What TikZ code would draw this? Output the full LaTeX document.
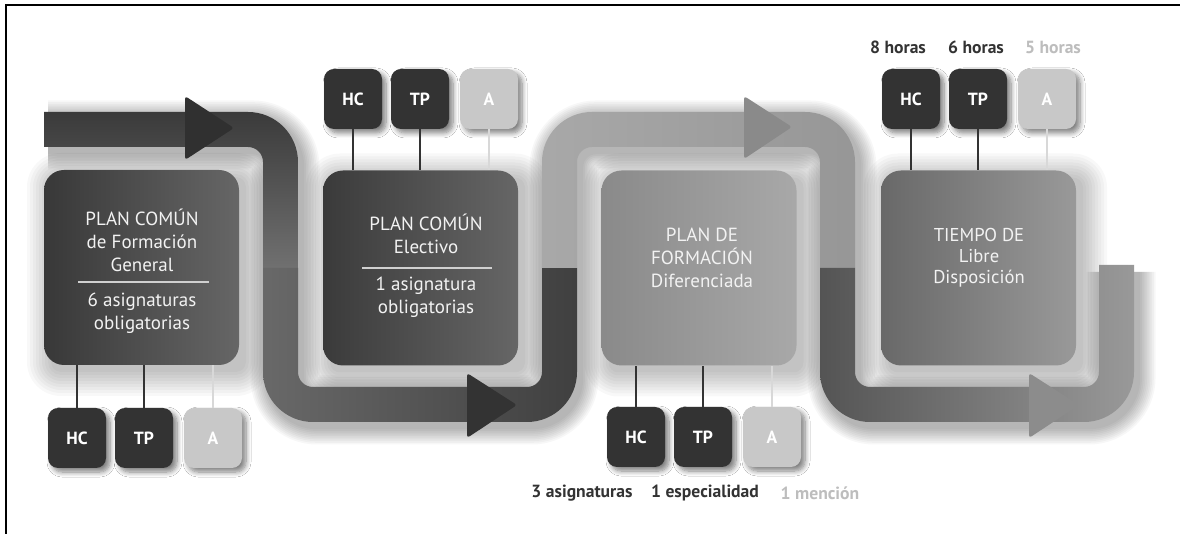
\documentclass[tikz,border=0pt]{standalone}
\usepackage{fontspec}
\setmainfont{PT Sans}
\usetikzlibrary{shadows.blur}
\definecolor{cdark}{HTML}{333333}
\definecolor{clight}{HTML}{C8C8C8}
\definecolor{clinelight}{HTML}{D8D8D8}
\definecolor{ctxt}{HTML}{F2F2F2}
\definecolor{crule}{HTML}{D0D0D0}
\definecolor{clabellight}{HTML}{BDBDBD}
\begin{document}
\begin{tikzpicture}[x=0.5pt,y=-0.5pt,
  bigbox/.style={rounded corners=10pt,minimum width=97.5pt,minimum height=97.5pt,inner sep=0pt},
  tag/.style={rounded corners=5pt,minimum width=29pt,minimum height=30pt,inner sep=0pt,text=white,
     font=\bfseries\fontsize{8.8}{9}\selectfont,
     blur shadow={shadow xshift=2pt,shadow yshift=-2pt,shadow blur radius=2.5pt,shadow blur steps=8,shadow opacity=50}},
  darktag/.style={tag,fill=cdark},
  lighttag/.style={tag,fill=clight},
  darklink/.style={draw=cdark,line width=1pt},
  lightlink/.style={draw=clinelight,line width=1pt},
  boxtext/.style={text=ctxt,align=center,font=\fontsize{9.5}{11.5}\selectfont,inner sep=0pt},
  hours/.style={font=\bfseries\fontsize{8.8}{9}\selectfont,inner sep=0pt},
  arrowhead/.style={rounded corners=1.5pt},
  softshade/.style={black,opacity=0.028}
]
\useasboundingbox (0,0) rectangle (1180,534);
\fill[white] (0,0) rectangle (1180,534);
\draw[line width=1pt,black] (6,534) -- (6,5) -- (1180,5);

% soft shadows of the big boxes
\foreach \cx/\cy in {141.5/267.5,420.5/268,699/268,978.5/268}{
  \foreach \w in {0,3,...,24}{
    \fill[softshade,rounded corners={(10+\w)*0.5pt}]
      ({\cx-97.5-\w+7},{\cy-97.5-\w+7}) rectangle ({\cx+97.5+\w+7},{\cy+97.5+\w+7});
  }
}

% soft shadow of the whole band
\coordinate (s0) at (48,135);
\coordinate (s1) at (285,135);
\coordinate (s2) at (285,410);
\coordinate (s3) at (564,410);
\coordinate (s4) at (564,135);
\coordinate (s5) at (842,135);
\coordinate (s6) at (842,410);
\coordinate (s7) at (1121,410);
\coordinate (s8) at (1121,272);
\foreach \w in {1,...,10}{
  \draw[black,opacity=0.03,line width={(35+3.4*\w)*0.5pt},rounded corners=16pt]
    (s0) -- (s1) -- (s2) -- (s3) -- (s4) -- (s5) -- (s6) -- (s7) -- (s8);
}

% band segments
\path[top color=black!77,bottom color=black!56]
  (44,112) -- (248,112) .. controls (275.6,112) and (298,134.4) .. (298,162) -- (298,268) -- (263,268)
  -- (263,162) .. controls (263,153.7) and (256.3,147) .. (248,147) -- (44,147) -- cycle;
\path[left color=black!59,right color=black!75]
  (263,268) -- (263,372) .. controls (263,399.6) and (285.4,422) .. (313,422) -- (527,422)
  .. controls (554.6,422) and (577,399.6) .. (577,372) -- (577,268) -- (542,268) -- (542,372)
  .. controls (542,380.3) and (535.3,387) .. (527,387) -- (313,387)
  .. controls (304.7,387) and (298,380.3) .. (298,372) -- (298,268) -- cycle;
\path[left color=black!34,right color=black!41]
  (542,268) -- (542,162) .. controls (542,134.4) and (564.4,112) .. (592,112) -- (805,112)
  .. controls (832.6,112) and (855,134.4) .. (855,162) -- (855,268) -- (820,268) -- (820,162)
  .. controls (820,153.7) and (813.3,147) .. (805,147) -- (592,147)
  .. controls (583.7,147) and (577,153.7) .. (577,162) -- (577,268) -- cycle;
\path[left color=black!67,right color=black!40]
  (820,268) -- (820,372) .. controls (820,399.6) and (842.4,422) .. (870,422) -- (1084,422)
  .. controls (1111.6,422) and (1134,399.6) .. (1134,372) -- (1134,265) -- (1099,265) -- (1099,372)
  .. controls (1099,380.3) and (1092.3,387) .. (1084,387) -- (870,387)
  .. controls (861.7,387) and (855,380.3) .. (855,372) -- (855,268) -- cycle;

% arrowheads
\fill[arrowhead,black!81] (185,96) -- (234,128) -- (185,160) -- cycle;
\fill[arrowhead,black!80] (467,373) -- (517,405) -- (467,438) -- cycle;
\fill[arrowhead,black!46] (744,96) -- (792,127) -- (744,159) -- cycle;
\fill[arrowhead,black!45] (1029,373) -- (1079,405) -- (1029,438) -- cycle;

% big boxes
\node[bigbox,left color=black!78,right color=black!60] (b1) at (141.5,267.5) {};
\node[bigbox,left color=black!77,right color=black!60] (b2) at (420.5,268) {};
\node[bigbox,left color=black!46,right color=black!34] (b3) at (699,268) {};
\node[bigbox,left color=black!59,right color=black!40] (b4) at (978.5,268) {};

% box texts
\node[boxtext] (b1t) at (142,240) {PLAN COMÚN\\de Formación\\General};
\draw[crule,line width=0.8pt] (78,282) -- (209,282);
\node[boxtext] (b1s) at (142,313) {6 asignaturas\\obligatorias};

\node[boxtext] (b2t) at (426,233.5) {PLAN COMÚN\\Electivo};
\draw[crule,line width=0.8pt] (362,268) -- (492,268);
\node[boxtext] (b2s) at (426,297) {1 asignatura\\obligatorias};

\node[boxtext] (b3t) at (702,257.5) {PLAN DE\\FORMACIÓN\\Diferenciada};
\node[boxtext,font=\fontsize{9.3}{10.5}\selectfont] (b4t) at (979,257.5) {TIEMPO DE\\Libre\\Disposición};

% tags box 2 (top)
\node[darktag] (t2hc) at (353,99) {HC};
\node[darktag] (t2tp) at (420,99) {TP};
\node[lighttag] (t2a) at (489,99) {A};
\draw[darklink] (t2hc.south) -- (t2hc.south |- b2.north);
\draw[darklink] (t2tp.south) -- (t2tp.south |- b2.north);
\draw[lightlink] (t2a.south) -- (t2a.south |- b2.north);

% tags box 4 (top)
\node[darktag] (t4hc) at (911,99) {HC};
\node[darktag] (t4tp) at (978,99) {TP};
\node[lighttag] (t4a) at (1047,99) {A};
\draw[darklink] (t4hc.south) -- (t4hc.south |- b4.north);
\draw[darklink] (t4tp.south) -- (t4tp.south |- b4.north);
\draw[lightlink] (t4a.south) -- (t4a.south |- b4.north);
\node[hours,text=cdark] (h8) at (898,47) {8 horas};
\node[hours,text=cdark] (h6) at (976,47) {6 horas};
\node[hours,text=clabellight] (h5) at (1053,47) {5 horas};

% tags box 1 (bottom)
\node[darktag] (t1hc) at (77,438) {HC};
\node[darktag] (t1tp) at (144,438) {TP};
\node[lighttag] (t1a) at (213,438) {A};
\draw[darklink] (t1hc.north) -- (t1hc.north |- b1.south);
\draw[darklink] (t1tp.north) -- (t1tp.north |- b1.south);
\draw[lightlink] (t1a.north) -- (t1a.north |- b1.south);

% tags box 3 (bottom)
\node[darktag] (t3hc) at (636,437) {HC};
\node[darktag] (t3tp) at (703,437) {TP};
\node[lighttag] (t3a) at (772,437) {A};
\draw[darklink] (t3hc.north) -- (t3hc.north |- b3.south);
\draw[darklink] (t3tp.north) -- (t3tp.north |- b3.south);
\draw[lightlink] (t3a.north) -- (t3a.north |- b3.south);
\node[hours,text=cdark] (l3a) at (582,493) {3 asignaturas};
\node[hours,text=cdark] (l1e) at (705,493) {1 especialidad};
\node[hours,text=clabellight] (l1m) at (820,493) {1 mención};
\end{tikzpicture}
\end{document}
